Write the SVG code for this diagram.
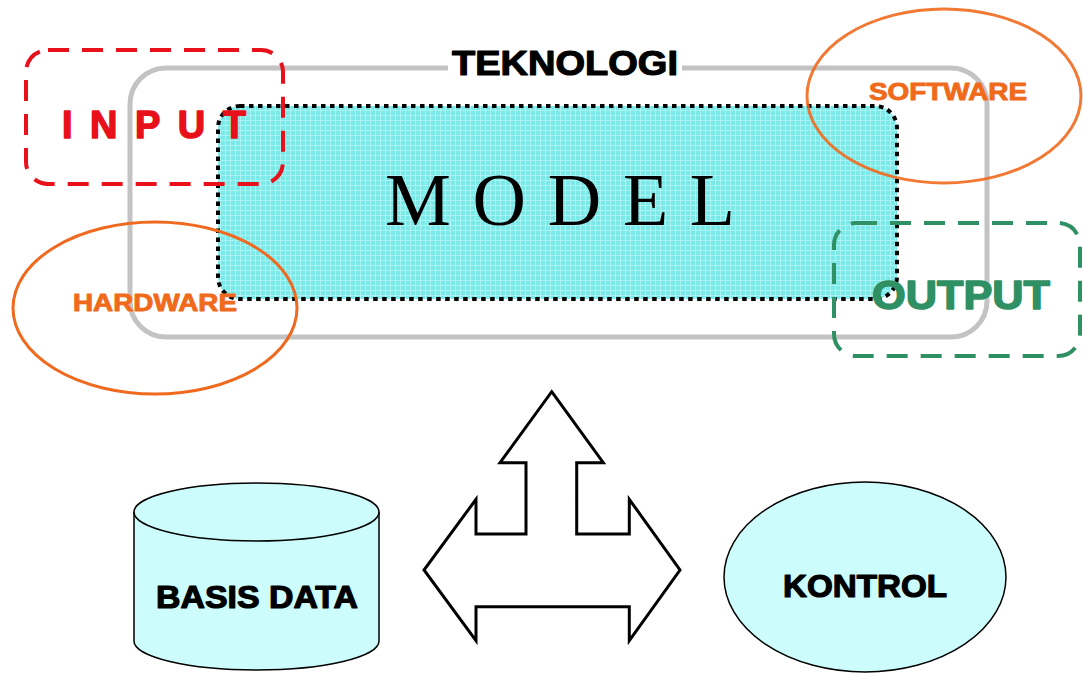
<svg xmlns="http://www.w3.org/2000/svg" width="1083" height="673" viewBox="0 0 1083 673">
<style>
.bold{font-family:"Liberation Sans",Arial,sans-serif;font-weight:bold;stroke-linejoin:round}
.orange{fill:#f06a1c;stroke:#f06a1c;stroke-width:0.9;font-size:24px}
.shape{fill:#ccfcfc;stroke:#000;stroke-width:1.5}
.lbl{fill:#000;stroke:#000;stroke-width:1.2;font-size:32px}
</style>
<defs>
<pattern id="grid" width="5" height="5" patternUnits="userSpaceOnUse">
<rect width="5" height="5" fill="#7ce9e9"/>
<path d="M0,0.5H5M0.5,0V5" stroke="#a9f3f3" stroke-width="1"/>
</pattern>
</defs>
<rect width="1083" height="673" fill="#fff"/>
<g id="teknologi">
<rect x="130" y="68" width="857" height="269" rx="36" fill="none" stroke="#c3c3c3" stroke-width="5"/>
<rect x="448" y="52" width="234" height="28" fill="#fff"/>
<text class="bold" x="452" y="75" font-size="35" textLength="226" lengthAdjust="spacingAndGlyphs" fill="#000" stroke="#000" stroke-width="1.2">TEKNOLOGI</text>
</g>
<g id="model">
<rect x="218" y="106" width="679" height="193" rx="22" fill="url(#grid)" stroke="#000" stroke-width="4" stroke-dasharray="4.5,4.5"/>
<text x="385" y="225" font-family="Liberation Serif,'Times New Roman',serif" font-size="74" textLength="350" lengthAdjust="spacing" fill="#000">MODEL</text>
</g>
<g id="input">
<rect x="26" y="50" width="257" height="134" rx="22" fill="none" stroke="#e8101a" stroke-width="4" stroke-dasharray="21,13"/>
<text class="bold" x="62" y="138" font-size="38" textLength="184" lengthAdjust="spacing" fill="#e8101a" stroke="#e8101a" stroke-width="1.5">INPUT</text>
</g>
<g id="hardware">
<ellipse cx="155" cy="308" rx="142" ry="86" fill="none" stroke="#ef6a1e" stroke-width="3"/>
<text class="bold orange" x="73" y="311" textLength="164" lengthAdjust="spacingAndGlyphs">HARDWARE</text>
</g>
<g id="software">
<ellipse cx="944" cy="96" rx="137" ry="87" fill="none" stroke="#ef6a1e" stroke-width="3" stroke-opacity="0.9"/>
<text class="bold orange" x="869" y="100" textLength="158" lengthAdjust="spacingAndGlyphs">SOFTWARE</text>
</g>
<g id="output">
<rect x="834" y="223" width="246" height="133" rx="22" fill="none" stroke="#2f9163" stroke-width="4" stroke-dasharray="21,13"/>
<text class="bold" x="872" y="309" font-size="40" textLength="178" lengthAdjust="spacingAndGlyphs" fill="#2f9163" stroke="#2f9163" stroke-width="1.5">OUTPUT</text>
</g>
<g id="connectors">
<path d="M551.7,391.7 L603.3,462.7 L576.7,462.7 L576.7,534 L629.3,534 L629.3,499.3 L680,570 L629.3,640.7 L629.3,606.7 L476,606.7 L476,640.7 L424,570 L476,499.3 L476,534 L526,534 L526,462.7 L500,462.7 Z" fill="#fff" stroke="#000" stroke-width="3" stroke-linejoin="miter"/>
</g>
<g id="basis-data">
<path class="shape" d="M134,512 V641 A122.5,29 0 0 0 379,641 V512"/>
<ellipse class="shape" cx="256.5" cy="512" rx="122.5" ry="29"/>
<text class="bold lbl" x="156" y="608" textLength="202" lengthAdjust="spacingAndGlyphs">BASIS DATA</text>
</g>
<g id="kontrol">
<ellipse class="shape" cx="865" cy="577" rx="141" ry="95"/>
<text class="bold lbl" x="783" y="597" textLength="164" lengthAdjust="spacingAndGlyphs">KONTROL</text>
</g>
</svg>
